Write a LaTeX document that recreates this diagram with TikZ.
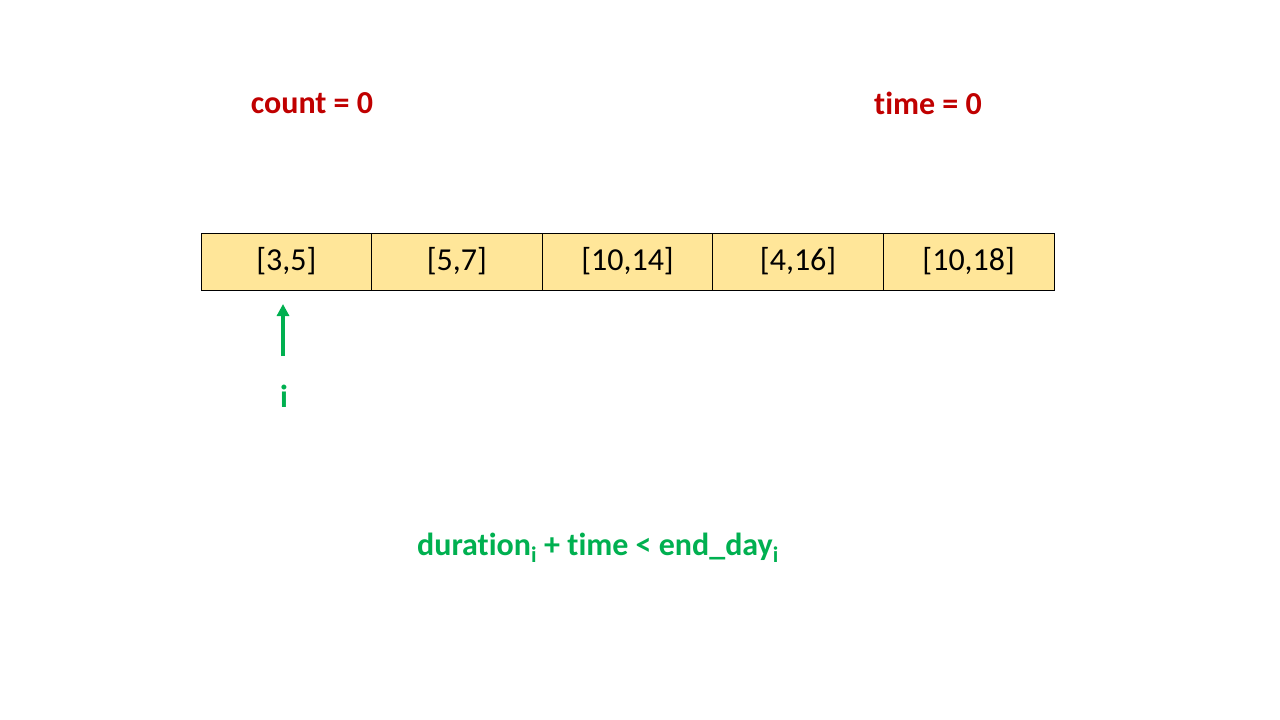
\documentclass[tikz,border=0pt]{standalone}
\usepackage{fontspec}
\setmainfont{Carlito}[Ligatures={NoCommon}]
\usetikzlibrary{arrows.meta}
\definecolor{cred}{HTML}{C00000}
\definecolor{cgreen}{HTML}{00B050}
\definecolor{cfill}{HTML}{FFE699}
\tikzset{
  cell/.style={draw=black, line width=0.8pt, fill=cfill, minimum width=170.6pt, minimum height=57pt, inner sep=0pt, font=\fontsize{32}{38}\selectfont, anchor=center},
  redlabel/.style={text=cred, font=\fontsize{32}{38}\selectfont\bfseries, inner sep=0pt},
  greenlabel/.style={text=cgreen, font=\fontsize{32}{38}\selectfont\bfseries, inner sep=0pt},
}
\begin{document}
\begin{tikzpicture}[x=1pt,y=-1pt]
\useasboundingbox (0,0) rectangle (1280,720);
\node[redlabel] (count) at (312,103) {count = 0};
\node[redlabel] (time) at (928,103) {time = 0};
\node[cell] (c1) at (286.3,261.5) {\raisebox{-2pt}{[3,5]}};
\node[cell] (c2) at (456.9,261.5) {\raisebox{-2pt}{[5,7]}};
\node[cell] (c3) at (627.5,261.5) {\raisebox{-2pt}{[10,14]}};
\node[cell] (c4) at (798.1,261.5) {\raisebox{-2pt}{[4,16]}};
\node[cell] (c5) at (968.7,261.5) {\raisebox{-2pt}{[10,18]}};
\node[greenlabel] (ilab) at (284,396) {i};
\coordinate (abot) at (283,356);
\coordinate (atop) at (283,304);
\draw[cgreen, line width=3.5pt, -{Triangle[length=12pt,width=12pt]}] (abot) -- (atop);
\node[greenlabel] (cond) at (598,548) {duration\textsubscript{i} + time < end\_day\textsubscript{i}};
\end{tikzpicture}
\end{document}
